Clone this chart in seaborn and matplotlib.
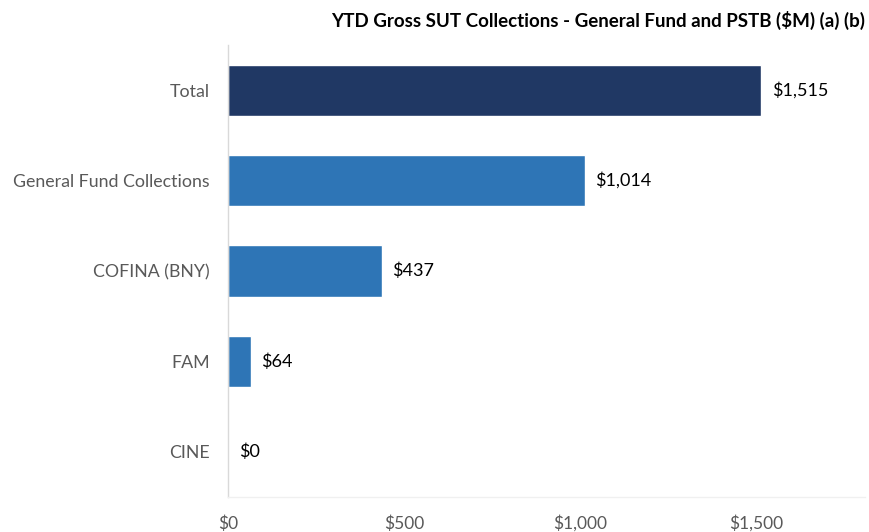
import pandas as pd
import seaborn as sns
import matplotlib.pyplot as plt

categories = ["Total", "General Fund Collections", "COFINA (BNY)", "FAM", "CINE"]
values = [1515, 1014, 437, 64, 0]
bar_colors = ["#203864", "#2E75B6", "#2E75B6", "#2E75B6", "#2E75B6"]
tick_values = [0, 500, 1000, 1500]
title = "YTD Gross SUT Collections - General Fund and PSTB ($M) (a) (b)"


def main():
    df = pd.DataFrame({"category": categories, "value": values})

    sns.set_style("white")
    plt.rcParams["font.family"] = ["Lato", "DejaVu Sans"]

    fig = plt.figure(figsize=(8.69, 5.32), dpi=100)
    ax = fig.add_axes([0.2624, 0.0658, 0.733, 0.8496])

    sns.barplot(data=df, x="value", y="category", hue="category",
                palette=bar_colors, orient="h", width=0.565,
                legend=False, ax=ax, saturation=1)

    # value labels just right of each bar
    for i, v in enumerate(values):
        ax.text(v + 30, i, f"${v:,}", va="center", ha="left",
                fontsize=13, color="black")

    ax.set_xlim(0, 1810)
    ax.set_ylim(4.5, -0.5)
    ax.set_xticks(tick_values)
    ax.set_xticklabels([f"${t:,}" for t in tick_values])
    ax.tick_params(axis="x", length=0, pad=13, labelsize=12.5, labelcolor="#595959")
    ax.tick_params(axis="y", length=0, pad=13, labelsize=12.8, labelcolor="#595959")
    ax.set_xlabel("")
    ax.set_ylabel("")

    for side in ["top", "right"]:
        ax.spines[side].set_visible(False)
    ax.spines["left"].set_color("#D9D9D9")
    ax.spines["left"].set_linewidth(1)
    ax.spines["bottom"].set_color("#F0F0F0")
    ax.spines["bottom"].set_linewidth(1)

    fig.text(0.995, 0.962, title, ha="right", va="center",
             fontsize=13.5, fontweight="bold", color="black")

    fig.savefig("out.png", dpi=100)


if __name__ == "__main__":
    main()
